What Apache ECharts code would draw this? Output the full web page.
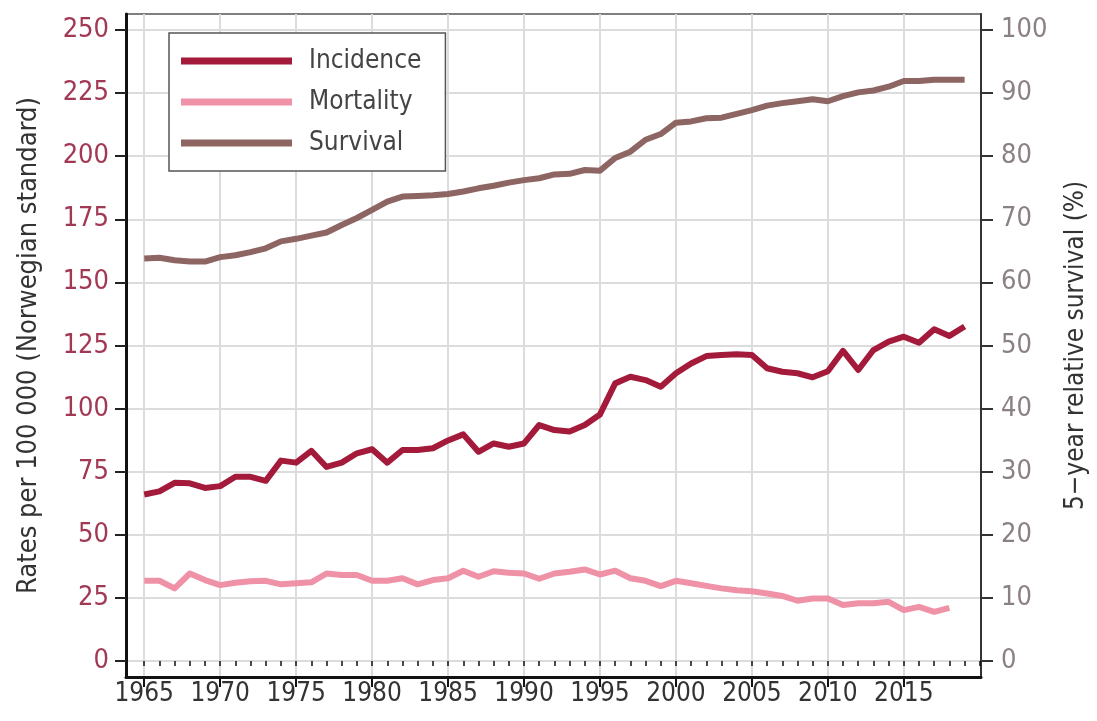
<!DOCTYPE html>
<html>
<head>
<meta charset="utf-8">
<title>Incidence, mortality and survival</title>
<script src="https://cdn.jsdelivr.net/npm/echarts@6/dist/echarts.min.js"></script>
<style>
  html, body { margin: 0; padding: 0; background: #fff; }
  #chart { width: 1097px; height: 721px; }
</style>
</head>
<body>
<div id="chart"></div>
<script>
// Years covered by the incidence series
const years = [
  1965, 1966, 1967, 1968, 1969, 1970, 1971, 1972, 1973, 1974,
  1975, 1976, 1977, 1978, 1979, 1980, 1981, 1982, 1983, 1984,
  1985, 1986, 1987, 1988, 1989, 1990, 1991, 1992, 1993, 1994,
  1995, 1996, 1997, 1998, 1999, 2000, 2001, 2002, 2003, 2004,
  2005, 2006, 2007, 2008, 2009, 2010, 2011, 2012, 2013, 2014,
  2015, 2016, 2017, 2018, 2019
];

// Rates per 100 000 (Norwegian standard)
const incidence = [
  66.0, 67.2, 70.6, 70.4, 68.6, 69.3, 73.0, 73.0, 71.4, 79.4,
  78.6, 83.3, 76.9, 78.6, 82.3, 83.9, 78.6, 83.6, 83.6, 84.3,
  87.4, 89.8, 82.9, 86.2, 84.9, 86.2, 93.5, 91.5, 90.9, 93.5,
  97.7, 110.0, 112.6, 111.3, 108.7, 114.0, 117.9, 120.8, 121.2, 121.5,
  121.2, 116.0, 114.6, 114.0, 112.4, 114.8, 122.9, 115.3, 123.2, 126.5,
  128.5, 126.1, 131.4, 128.8, 132.5
];

// Mortality stops one year earlier (1965–2018)
const mortality = [
  31.8, 31.8, 28.8, 34.7, 32.1, 30.1, 31.0, 31.6, 31.8, 30.4,
  30.8, 31.2, 34.7, 34.1, 34.1, 31.8, 31.8, 32.8, 30.4, 32.1,
  32.8, 35.8, 33.4, 35.6, 35.0, 34.7, 32.6, 34.7, 35.4, 36.3,
  34.3, 35.8, 32.8, 31.8, 29.7, 31.8, 30.8, 29.8, 28.8, 28.1,
  27.7, 26.8, 25.8, 23.9, 24.8, 24.8, 22.2, 22.9, 22.9, 23.5,
  20.2, 21.5, 19.5, 21.1
];

// 5-year relative survival (%)
const survival = [
  63.8, 63.9, 63.5, 63.3, 63.3, 64.0, 64.3, 64.8, 65.4, 66.5,
  66.9, 67.4, 67.9, 69.1, 70.2, 71.5, 72.8, 73.6, 73.7, 73.8,
  74.0, 74.4, 74.9, 75.3, 75.8, 76.2, 76.5, 77.1, 77.2, 77.8,
  77.7, 79.7, 80.7, 82.6, 83.5, 85.3, 85.5, 86.0, 86.1, 86.7,
  87.3, 88.0, 88.4, 88.7, 89.0, 88.7, 89.5, 90.1, 90.4, 91.0,
  91.9, 91.9, 92.1, 92.1, 92.1
];

// Axis tick labels
const yearTicks = [1965, 1970, 1975, 1980, 1985, 1990, 1995, 2000, 2005, 2010, 2015];
const rateTicks = [0, 25, 50, 75, 100, 125, 150, 175, 200, 225, 250];
const survivalTicks = [0, 10, 20, 30, 40, 50, 60, 70, 80, 90, 100];

const seriesNames = ['Incidence', 'Mortality', 'Survival'];
const seriesColors = ['#a31a3b', '#ef92a7', '#8d6563'];

// one minor tick per calendar year along the bottom axis
const yearMinorTicks = [];
for (let y = 1965; y <= 2020; y++) yearMinorTicks.push(y);

const pairs = (vals) => vals.map((v, i) => [years[i], v]);

const FONT = "'DejaVu Sans Condensed', 'Noto Sans', sans-serif";

const X_MIN = 1963.8, X_MAX = 2020.08;
const Y_MIN = -6.3, Y_MAX = 256.3;

const chart = echarts.init(document.getElementById('chart'), null, { renderer: 'canvas' });

chart.setOption({
  animation: false,
  backgroundColor: '#ffffff',
  textStyle: { fontFamily: FONT },
  grid: {
    left: 126, right: 112, top: 14, bottom: 44,
    show: true, borderColor: '#555', borderWidth: 1.5, backgroundColor: 'transparent'
  },
  legend: {
    data: seriesNames,
    orient: 'vertical',
    left: 169, top: 33,
    icon: 'rect',
    itemWidth: 111, itemHeight: 7,
    itemGap: 11,
    padding: [13, 24, 13, 12],
    borderColor: '#555', borderWidth: 1.5,
    backgroundColor: '#fff',
    textStyle: { fontFamily: FONT, fontSize: 26, color: '#444', lineHeight: 30, padding: [0, 0, 0, 12] }
  },
  xAxis: [
    {
      type: 'value', min: X_MIN, max: X_MAX,
      axisLine: { show: true, onZero: false, lineStyle: { color: '#111', width: 3 } },
      axisTick: { show: true, customValues: yearTicks, length: 10, lineStyle: { color: '#111', width: 2 } },
      axisLabel: {
        customValues: yearTicks, formatter: (v) => String(v),
        fontFamily: FONT, fontSize: 26, color: '#333', margin: 4
      },
      splitLine: { show: true, lineStyle: { color: '#dcdcdc', width: 2 } }
    },
    {
      type: 'value', min: X_MIN, max: X_MAX, position: 'bottom',
      axisLine: { show: false },
      axisTick: { show: true, customValues: yearMinorTicks, length: 5, lineStyle: { color: '#111', width: 1.5 } },
      axisLabel: { show: false },
      splitLine: { show: false }
    }
  ],
  yAxis: [
    {
      type: 'value', min: Y_MIN, max: Y_MAX, position: 'left',
      name: 'Rates per 100 000 (Norwegian standard)',
      nameLocation: 'middle', nameGap: 84, nameRotate: 90,
      nameTextStyle: { fontFamily: FONT, fontSize: 27, color: '#333' },
      axisLine: { show: true, onZero: false, lineStyle: { color: '#111', width: 3 } },
      axisTick: { show: true, customValues: rateTicks, length: 11, lineStyle: { color: '#222', width: 2 } },
      axisLabel: { customValues: rateTicks, fontFamily: FONT, fontSize: 27, color: '#a23954', margin: 17 },
      splitLine: { show: true, lineStyle: { color: '#dcdcdc', width: 2 } }
    },
    {
      type: 'value', min: Y_MIN / 2.5, max: Y_MAX / 2.5, position: 'right',
      name: '5\u2212year relative survival (%)',
      nameLocation: 'middle', nameGap: 82, nameRotate: 90,
      nameTextStyle: { fontFamily: FONT, fontSize: 26, color: '#333' },
      axisLine: { show: true, onZero: false, lineStyle: { color: '#333', width: 2 } },
      axisTick: { show: true, customValues: survivalTicks, length: 12, lineStyle: { color: '#333', width: 2 } },
      axisLabel: { customValues: survivalTicks, fontFamily: FONT, fontSize: 27, color: '#8b8083', margin: 20 },
      splitLine: { show: false }
    }
  ],
  series: [
    {
      name: seriesNames[0], type: 'line', yAxisIndex: 0, data: pairs(incidence),
      showSymbol: false, color: seriesColors[0],
      lineStyle: { width: 6, color: seriesColors[0], join: 'round' }, z: 4
    },
    {
      name: seriesNames[1], type: 'line', yAxisIndex: 0, data: pairs(mortality),
      showSymbol: false, color: seriesColors[1],
      lineStyle: { width: 6, color: seriesColors[1], join: 'round' }, z: 3
    },
    {
      name: seriesNames[2], type: 'line', yAxisIndex: 1, data: pairs(survival),
      showSymbol: false, color: seriesColors[2],
      lineStyle: { width: 6, color: seriesColors[2], join: 'round' }, z: 3
    }
  ]
});
</script>
</body>
</html>
